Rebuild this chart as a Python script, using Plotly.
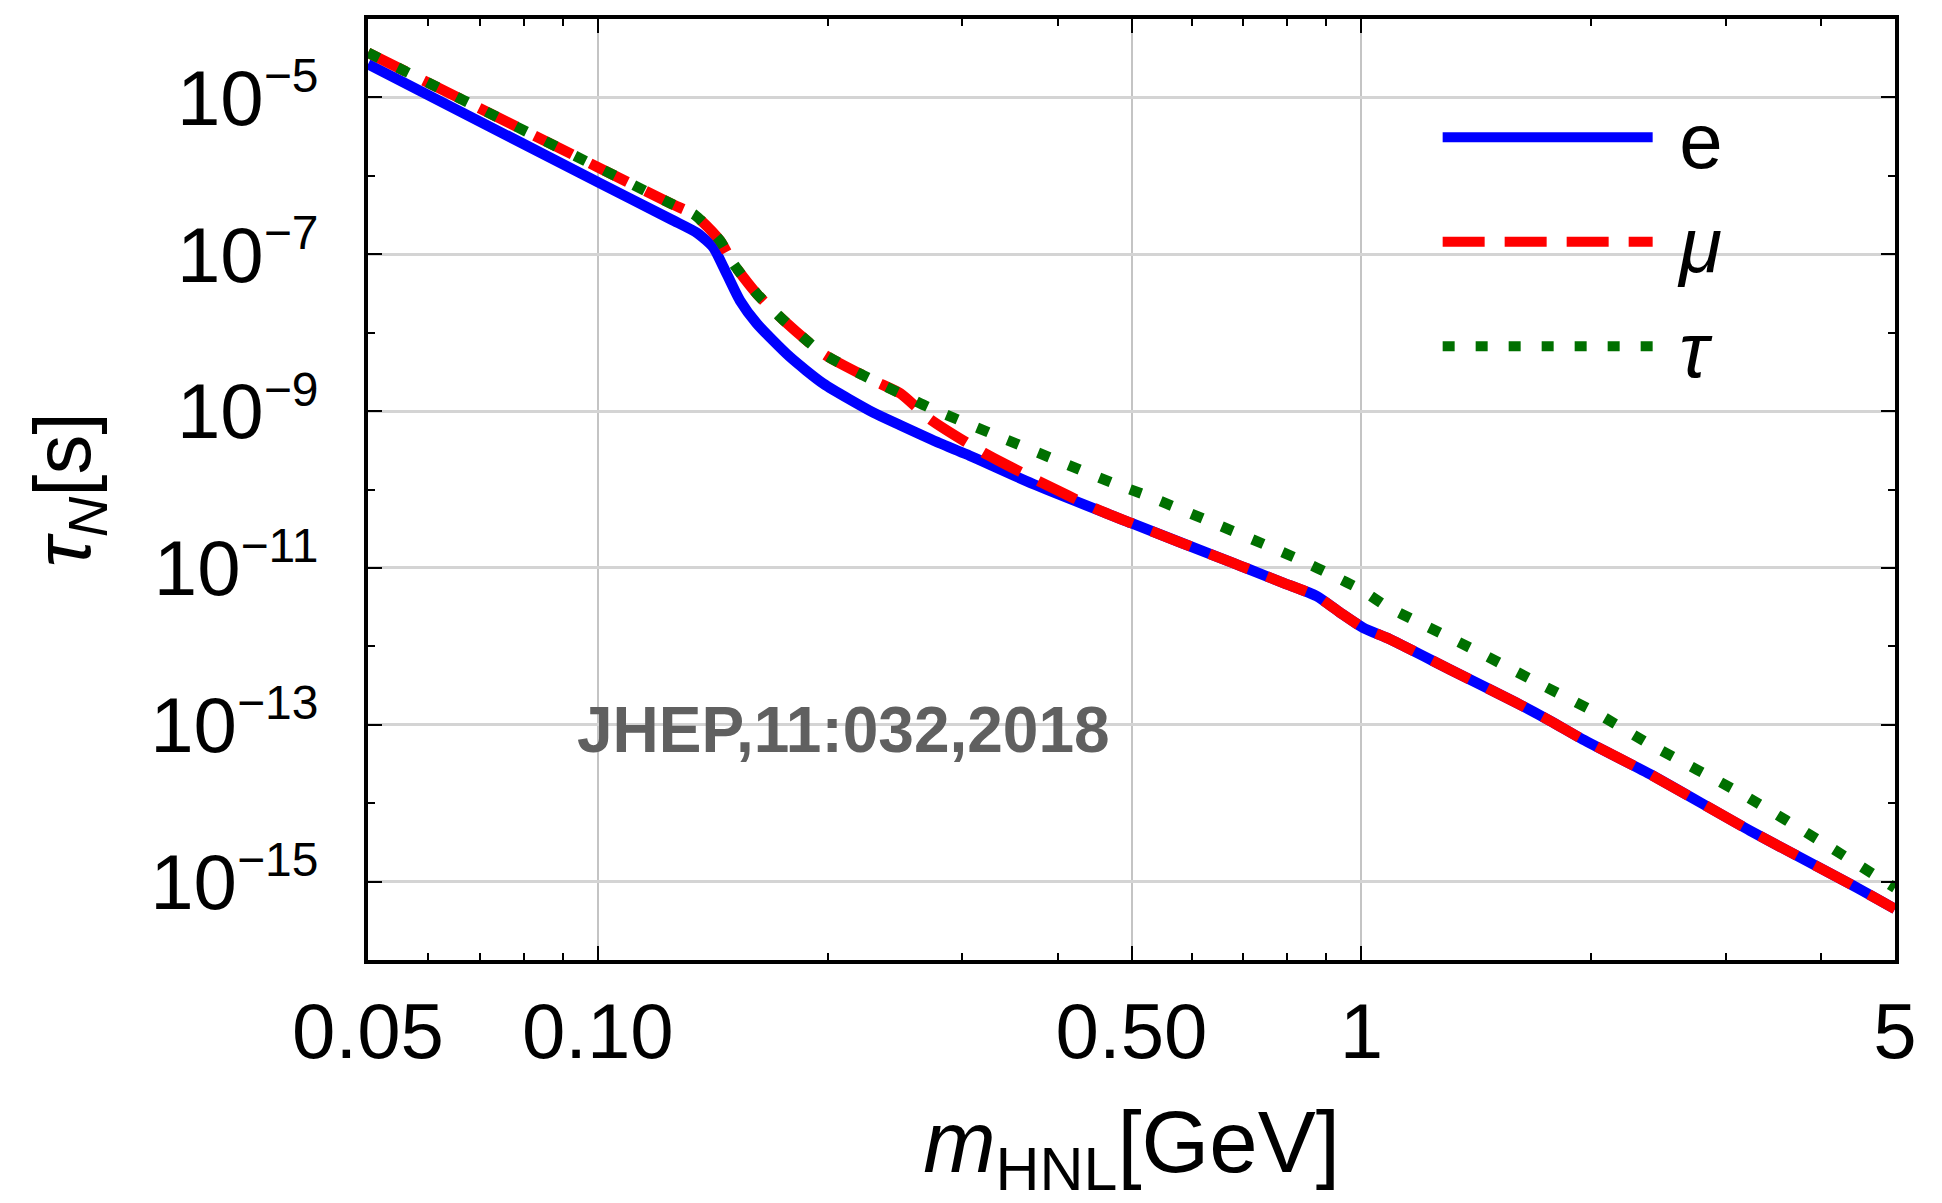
import numpy as np
import plotly.graph_objects as go

# ---------------- data ----------------
m_e = [0.05, 0.1, 0.125, 0.135, 0.1416, 0.146, 0.1535, 0.1614, 0.1785,
       0.1974, 0.2296, 0.249, 0.2806, 0.304, 0.3716, 0.5, 0.68, 0.714, 0.79,
       0.874, 0.938, 1.006, 1.09, 1.306, 1.596, 1.767, 1.952, 2.388, 3.228,
       4.365, 5.0]
tau_e = [2.655e-5, 8.318e-7, 2.754e-7, 1.862e-7, 1.230e-7, 6.918e-8,
         2.570e-8, 1.318e-8, 4.898e-9, 2.239e-9, 9.550e-10, 6.607e-10, 3.890e-10,
         2.818e-10, 1.175e-10, 3.715e-11, 1.148e-11, 9.550e-12, 6.457e-12,
         4.365e-12, 2.692e-12, 1.718e-12, 1.230e-12, 5.070e-13, 1.905e-13,
         1.122e-13, 6.457e-14, 2.344e-14, 4.467e-15, 9.333e-16, 4.467e-16]

m_mu = [0.05, 0.1, 0.125, 0.134, 0.1445, 0.1505, 0.1614, 0.175, 0.1974, 0.2296,
        0.249, 0.272, 0.32, 0.379, 0.45, 0.5, 0.68, 0.714, 0.79, 0.874, 0.938,
        1.006, 1.09, 1.306, 1.596, 1.767, 1.952, 2.388, 3.228, 4.365, 5.0]
tau_mu = [3.715e-5, 1.288e-6, 4.365e-7, 3.162e-7, 1.496e-7, 7.586e-8, 3.162e-8,
          1.445e-8, 5.370e-9, 2.455e-9, 1.679e-9, 7.943e-10, 2.951e-10,
          1.259e-10, 5.623e-11, 3.715e-11, 1.148e-11, 9.550e-12, 6.457e-12,
          4.365e-12, 2.692e-12, 1.718e-12, 1.230e-12, 5.070e-13, 1.905e-13,
          1.122e-13, 6.457e-14, 2.344e-14, 4.467e-15, 9.333e-16, 4.467e-16]

m_tau = [0.05, 0.1, 0.125, 0.134, 0.1445, 0.1505, 0.1614, 0.175, 0.1974, 0.2296,
         0.249, 0.271, 0.3266, 0.3926, 0.473, 0.521, 0.627, 0.759, 0.832, 0.914,
         1.0, 1.079, 1.181, 1.416, 1.698, 2.032, 2.388, 3.162, 4.11, 5.0]
tau_tau = [3.715e-5, 1.288e-6, 4.365e-7, 3.162e-7, 1.496e-7, 7.586e-8, 3.162e-8,
           1.445e-8, 5.370e-9, 2.455e-9, 1.679e-9, 1.122e-9, 5.248e-10,
           2.512e-10, 1.202e-10, 8.511e-11, 4.074e-11, 1.862e-11, 1.259e-11,
           8.128e-12, 5.248e-12, 3.236e-12, 2.089e-12, 8.710e-13, 3.467e-13,
           1.413e-13, 5.623e-14, 1.288e-14, 2.754e-15, 8.318e-16]

series_names = ["\u00a0e", "\u00a0<i>μ</i>", "\u00a0<i>τ</i>"]

x_range = [0.05, 5.0]
y_range = [1e-16, 1e-4]
x_tickvals = [0.05, 0.1, 0.5, 1, 5]
x_ticktext = ["0.05", "0.10", "0.50", "1", "5"]
x_minor = [0.06, 0.07, 0.08, 0.09, 0.2, 0.3, 0.4, 0.6, 0.7, 0.8, 0.9, 2, 3, 4]
y_tickvals = [1e-5, 1e-7, 1e-9, 1e-11, 1e-13, 1e-15]
y_exponents = ["−5", "−7", "−9", "−11", "−13", "−15"]
y_ticktext = ["10<sup><span style='font-size:48px'>" + e + "</span></sup>"
              for e in y_exponents]
y_minor = [1e-6, 1e-8, 1e-10, 1e-12, 1e-14]

note_text = "JHEP,11:032,2018"
note_x, note_y = 0.21, 8.5e-14

# ---------------- figure ----------------
FONT = "Liberation Sans, Arial, Helvetica, sans-serif"
fig = go.Figure()
fig.add_trace(go.Scatter(x=m_e, y=tau_e, mode="lines", name=series_names[0],
                         line=dict(color="#0000ff", width=10.5, shape="spline",
                                   smoothing=0.6)))
fig.add_trace(go.Scatter(x=m_mu, y=tau_mu, mode="lines", name=series_names[1],
                         line=dict(color="#ff0000", width=10.5, dash="42px,20px",
                                   shape="spline", smoothing=0.6)))
fig.add_trace(go.Scatter(x=m_tau, y=tau_tau, mode="lines", name=series_names[2],
                         line=dict(color="#007000", width=10.5, dash="12px,21px",
                                   shape="spline", smoothing=0.6)))

axis_common = dict(
    type="log", ticks="inside", tickcolor="black", tickwidth=2, ticklen=14,
    showline=True, linecolor="black", linewidth=4, mirror="allticks",
    showgrid=True, zeroline=False, tickmode="array",
    tickfont=dict(size=78, family=FONT, color="black"),
)

fig.update_layout(
    width=1942, height=1203,
    margin=dict(l=368, r=47, t=19, b=243),
    paper_bgcolor="white", plot_bgcolor="white",
    font=dict(family=FONT, color="black"),
    showlegend=True,
    legend=dict(x=0.7005, y=0.935, xanchor="left", yanchor="top",
                bgcolor="rgba(0,0,0,0)", font=dict(size=78, family=FONT),
                itemwidth=210, tracegroupgap=0),
    xaxis=dict(
        **axis_common,
        range=[np.log10(x_range[0]), np.log10(x_range[1])],
        tickvals=x_tickvals, ticktext=x_ticktext,
        gridcolor="#c4c4c4", gridwidth=1.5,
        ticklabelstandoff=0,
        minor=dict(tickmode="array", tickvals=x_minor, ticks="inside", ticklen=7,
                   tickwidth=2, tickcolor="black", showgrid=False),
        title=dict(text="<i>m</i><sub>HNL</sub>[GeV]",
                   font=dict(size=87, family=FONT), standoff=40),
    ),
    yaxis=dict(
        **axis_common,
        range=[np.log10(y_range[0]), np.log10(y_range[1])],
        tickvals=y_tickvals, ticktext=y_ticktext,
        gridcolor="#d4d4d4", gridwidth=2.5,
        ticklabelstandoff=30,
        minor=dict(tickmode="array", tickvals=y_minor, ticks="inside", ticklen=7,
                   tickwidth=2, tickcolor="black", showgrid=False),
    ),
    annotations=[
        dict(text=note_text, x=np.log10(note_x), y=np.log10(note_y),
             xref="x", yref="y", showarrow=False,
             font=dict(size=64, family=FONT, color="#606060", weight="bold"),
             xanchor="center", yanchor="middle"),
        dict(text="<i>τ<sub>N</sub></i>[s]", x=-0.196, y=0.5,
             xref="paper", yref="paper", showarrow=False, textangle=-90,
             font=dict(size=80, family=FONT, color="black"),
             xanchor="center", yanchor="middle"),
    ],
)

fig.write_html("out.html")
